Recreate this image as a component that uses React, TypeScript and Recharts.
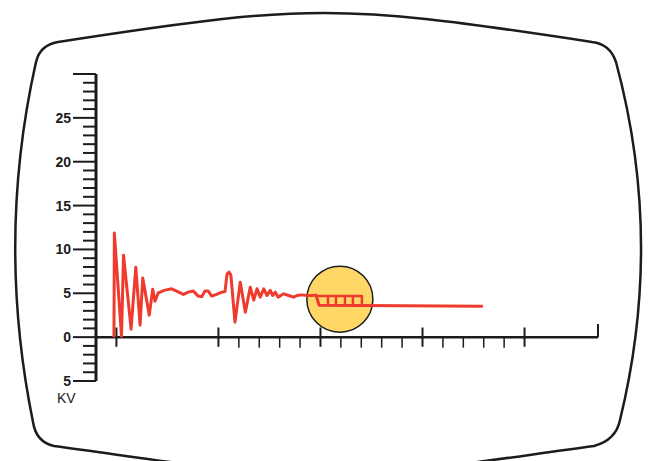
import { ComposedChart, Line, XAxis, YAxis, ReferenceLine, ReferenceDot } from 'recharts';

// scope trace (time units, kV)
const traceX = [
  -0.12, -0.1, 0.25, 0.35, 0.72, 0.95, 1.16, 1.29, 1.61, 1.78, 1.89, 2.05, 2.38, 2.71, 2.95, 3.28,
  3.52, 3.77, 4.01, 4.18, 4.34, 4.5, 4.67, 4.91, 5.16, 5.32, 5.42, 5.52, 5.61, 5.81, 6.07, 6.32,
  6.56, 6.73, 6.89, 7.05, 7.22, 7.38, 7.54, 7.66, 7.79, 7.92, 8.2, 8.44, 8.69, 8.85, 9.09, 9.34,
  9.58, 9.78, 9.93, 17.96,
];
const traceY = [
  0, 11.86, 0.11, 9.35, 0.91, 7.98, 1.37, 6.73, 2.51, 5.47, 4.1, 5.05, 5.36, 5.51, 5.25, 4.87,
  5.13, 5.25, 4.68, 4.6, 5.25, 5.25, 4.68, 4.87, 5.13, 5.19, 7.18, 7.41, 7.07, 1.71, 6.27, 2.85,
  5.7, 4.22, 5.51, 4.56, 5.51, 4.75, 5.33, 4.75, 5.13, 4.56, 4.94, 4.75, 4.56, 4.75, 4.82, 4.75,
  4.75, 4.79, 3.65, 3.53,
];

// pulse comb inside the marker
const combX = [9.79, 12.03, 12.03, 11.59, 11.59, 11.2, 11.2, 10.76, 10.76, 10.37, 10.37];
const combY = [4.7, 4.7, 3.65, 3.65, 4.7, 4.7, 3.65, 3.65, 4.7, 4.7, 3.65];

const marker = { x: 10.95, y: 4.33 };

const yTicks = Array.from({ length: 36 }, (_, i) => i - 5);
const majorXTicks = [0, 5, 10, 15, 20];
const minorXTicks = [6, 7, 8, 9, 11, 12, 13, 14, 16, 17, 18, 19];
const xEnd = 23.6;

const trace = traceX.map((x, i) => ({ x, y: traceY[i] }));
const comb = combX.map((x, i) => ({ x, y: combY[i] }));

const INK = '#1c1c1c';
const RED = '#ee3b2e';
const FONT = '"Liberation Sans", Arial, sans-serif';

function YTick(props: any) {
  const { x, y, payload } = props;
  const v = payload.value;
  const major = v % 5 === 0;
  const len = major ? 23 : 13;
  return (
    <g>
      <line x1={x - len} y1={y} x2={x} y2={y} stroke={INK} strokeWidth={2} />
      {major && v !== 30 && (
        <text x={x - 25} y={y} dy="0.36em" textAnchor="end" fontSize={14} fontWeight="bold" fontFamily={FONT} fill={INK}>
          {Math.abs(v)}
        </text>
      )}
      {v === -5 && (
        <text x={x - 39} y={y + 22} fontSize={14} fontFamily={FONT} fill={INK}>
          KV
        </text>
      )}
    </g>
  );
}

function Frame() {
  return (
    <svg width={648} height={461} style={{ position: 'absolute', left: 0, top: 0 }}>
      <path
        d="M58,42 C200,20 260,13 324,13 C388,13 448,20 592,42 Q610,44 616,62 Q664,240 620,420 Q616,440 594,446 C448,466 388,476 324,476 C260,476 200,466 54,446 Q36,442 33,422 Q-4,240 36,62 Q40,45 58,42 Z"
        fill="#fff"
        stroke={INK}
        strokeWidth={2.5}
      />
    </svg>
  );
}

export default function App() {
  return (
    <div style={{ position: 'absolute', left: 0, top: 0, width: 648, height: 461, background: '#fff', overflow: 'hidden' }}>
      <Frame />
      <div style={{ position: 'absolute', left: 0, top: 0 }}>
        <ComposedChart width={648} height={461} margin={{ top: 74, right: 50, bottom: 80, left: 0 }}>
          <XAxis type="number" dataKey="x" domain={[-1, xEnd]} hide allowDataOverflow />
          <YAxis
            type="number"
            domain={[-5, 30]}
            ticks={yTicks}
            interval={0}
            width={96}
            axisLine={{ stroke: INK, strokeWidth: 3 }}
            tickLine={false}
            tickSize={0}
            tickMargin={0}
            tick={<YTick />}
            allowDataOverflow
          />
          <ReferenceLine y={0} stroke={INK} strokeWidth={2.5} />
          {majorXTicks.map((t) => (
            <ReferenceLine key={'M' + t} segment={[{ x: t, y: -1.1 }, { x: t, y: 1.1 }]} stroke={INK} strokeWidth={2} />
          ))}
          {minorXTicks.map((t) => (
            <ReferenceLine key={'m' + t} segment={[{ x: t, y: 0 }, { x: t, y: -1.2 }]} stroke={INK} strokeWidth={1.5} />
          ))}
          <ReferenceLine segment={[{ x: xEnd, y: 0 }, { x: xEnd, y: 1.5 }]} stroke={INK} strokeWidth={2} />
          <ReferenceDot x={marker.x} y={marker.y} r={33} fill="#ffd766" stroke={INK} strokeWidth={1.5} zIndex={300} />
          <Line
            data={trace}
            dataKey="y"
            type="linear"
            stroke={RED}
            strokeWidth={3}
            strokeLinejoin="round"
            dot={false}
            isAnimationActive={false}
          />
          <Line
            data={comb}
            dataKey="y"
            type="linear"
            stroke={RED}
            strokeWidth={2.5}
            strokeLinejoin="round"
            dot={false}
            isAnimationActive={false}
          />
        </ComposedChart>
      </div>
    </div>
  );
}
